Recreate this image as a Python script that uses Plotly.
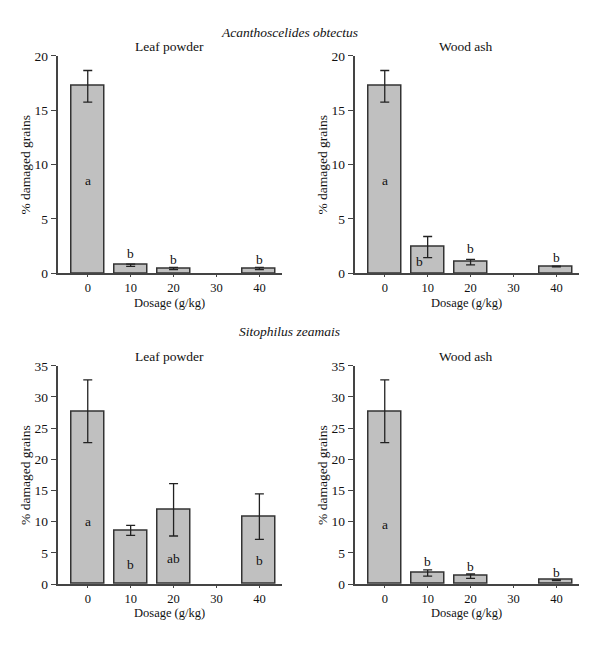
import plotly.graph_objects as go

# ---- data ----
dosage = [0, 10, 20, 30, 40]
dosage_ticks = [0, 10, 20, 30, 40]

ao_leaf_mean = [17.2, 0.75, 0.45, None, 0.45]
ao_leaf_err = [1.45, 0.1, 0.1, None, 0.1]
ao_leaf_letters = ["a", "b", "b", "", "b"]
ao_leaf_letter_y = [8.5, 1.85, 1.25, None, 1.3]

ao_ash_mean = [17.2, 2.42, 1.04, None, 0.63]
ao_ash_err = [1.45, 0.97, 0.25, None, 0.03]
ao_ash_letters = ["a", "b", "b", "", "b"]
ao_ash_letter_y = [8.5, 1.1, 2.25, None, 1.45]
ao_ash_letter_dx = [0, -2.0, 0, 0, 0]

sz_leaf_mean = [27.7, 8.6, 11.9, None, 10.8]
sz_leaf_err = [5.03, 0.8, 4.2, None, 3.65]
sz_leaf_letters = ["a", "b", "ab", "", "b"]
sz_leaf_letter_y = [10.0, 3.2, 4.1, None, 3.75]

sz_ash_mean = [27.7, 1.77, 1.25, None, 0.6]
sz_ash_err = [5.03, 0.5, 0.35, None, 0.05]
sz_ash_letters = ["a", "b", "b", "", "b"]
sz_ash_letter_y = [9.6, 3.65, 2.8, None, 1.77]

species = ["Acanthoscelides obtectus", "Sitophilus zeamais"]
panel_titles = ["Leaf powder", "Wood ash"]
x_title = "Dosage (g/kg)"
y_title = "% damaged grains"

# ---- layout geometry ----
W, H = 600, 647
FONT = "Liberation Serif, Times New Roman, serif"
TXT = "#111111"
AX = "#444444"
FS = 13.5
FSX = 12.5

def px_x(p):
    return p / W

def px_y(p):
    return 1 - p / H

panels = [
    (ao_leaf_mean, ao_leaf_err, ao_leaf_letters, ao_leaf_letter_y, [0]*5, 57.5, 50, 272.7, 20, 5),
    (ao_ash_mean, ao_ash_err, ao_ash_letters, ao_ash_letter_y, ao_ash_letter_dx, 354.5, 50, 272.7, 20, 5),
    (sz_leaf_mean, sz_leaf_err, sz_leaf_letters, sz_leaf_letter_y, [0]*5, 57.5, 367.3, 590.7, 35, 5),
    (sz_ash_mean, sz_ash_err, sz_ash_letters, sz_ash_letter_y, [0]*5, 354.5, 367.3, 590.7, 35, 5),
]

fig = go.Figure()
annotations = []
layout_axes = {}
PW = 224.2

for i, (mean, err, letters, ly, ldx, x0, yt, yb, ymax, dt) in enumerate(panels):
    n = i + 1
    xa = "x" if n == 1 else f"x{n}"
    ya = "y" if n == 1 else f"y{n}"
    xs = [d for d, m in zip(dosage, mean) if m is not None]
    ms = [m for m in mean if m is not None]
    es = [e for e, m in zip(err, mean) if m is not None]
    fig.add_trace(go.Bar(
        x=xs, y=ms, width=7.7,
        marker=dict(color="#c0c0c0", line=dict(color="#333333", width=1.5)),
        error_y=dict(type="data", array=es, visible=True, color="#222222",
                     thickness=1.3, width=4.5),
        xaxis=xa, yaxis=ya, showlegend=False, hoverinfo="skip",
    ))
    xkey = "xaxis" if n == 1 else f"xaxis{n}"
    ykey = "yaxis" if n == 1 else f"yaxis{n}"
    layout_axes[xkey] = dict(
        domain=[px_x(x0), px_x(x0 + PW)], anchor=ya,
        range=[-7.05, 45.2], tickvals=dosage_ticks, ticktext=[str(t) for t in dosage_ticks],
        showline=True, linecolor=AX, linewidth=1.5, ticks="outside", ticklen=2,
        tickwidth=1, tickcolor=AX, showgrid=False, zeroline=False,
        tickfont=dict(family=FONT, size=FSX, color=TXT), fixedrange=True,
    )
    layout_axes[ykey] = dict(
        domain=[px_y(yb), px_y(yt)], anchor=xa,
        range=[0, ymax], dtick=dt, tick0=0,
        showline=True, linecolor=AX, linewidth=1.5, ticks="outside", ticklen=5,
        tickwidth=1, tickcolor=AX, showgrid=False, zeroline=False,
        tickfont=dict(family=FONT, size=FS, color=TXT), fixedrange=True,
    )
    for d, lt, yv, dx in zip(dosage, letters, ly, ldx):
        if lt and yv is not None:
            annotations.append(dict(
                x=d + dx, y=yv, xref=xa, yref=ya, text=lt, showarrow=False,
                font=dict(family=FONT, size=FS, color=TXT),
                xanchor="center", yanchor="middle",
            ))
    annotations.append(dict(
        x=px_x(x0 + PW / 2 - 0.5), y=px_y(yt - 10), xref="paper", yref="paper",
        text=panel_titles[i % 2], showarrow=False,
        font=dict(family=FONT, size=FS, color=TXT), xanchor="center", yanchor="middle",
    ))
    annotations.append(dict(
        x=px_x(x0 + PW / 2 - 0.5), y=px_y(yb + 30), xref="paper", yref="paper",
        text=x_title, showarrow=False,
        font=dict(family=FONT, size=FSX, color=TXT), xanchor="center", yanchor="middle",
    ))
    annotations.append(dict(
        x=px_x(x0 - 31.5), y=px_y((yt + yb) / 2), xref="paper", yref="paper",
        text=y_title, showarrow=False, textangle=-90,
        font=dict(family=FONT, size=FS, color=TXT), xanchor="center", yanchor="middle",
    ))

for sp, ypx in zip(species, [26, 332]):
    annotations.append(dict(
        x=px_x(289), y=px_y(ypx), xref="paper", yref="paper",
        text=f"<i>{sp}</i>", showarrow=False,
        font=dict(family=FONT, size=FS, color=TXT), xanchor="center", yanchor="middle",
    ))

fig.update_layout(
    width=W, height=H, margin=dict(l=0, r=0, t=0, b=0),
    paper_bgcolor="white", plot_bgcolor="white",
    annotations=annotations, bargap=0, **layout_axes,
)

fig.write_html("out.html", config={"displayModeBar": False})
